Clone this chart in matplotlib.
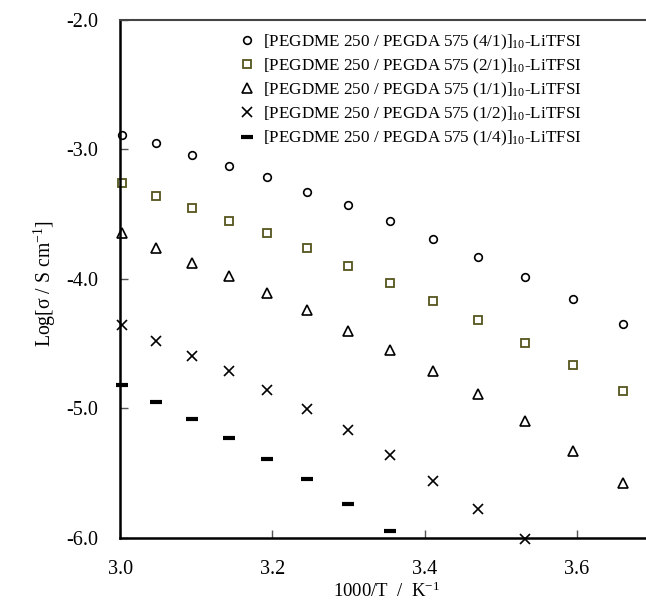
import numpy as np
import matplotlib.pyplot as plt

plt.rcParams['font.family'] = ['Liberation Serif', 'DejaVu Serif']
plt.rcParams['mathtext.fontset'] = 'custom'
plt.rcParams['mathtext.rm'] = 'Liberation Serif'
plt.rcParams['mathtext.it'] = 'Liberation Serif:italic'
plt.rcParams['axes.unicode_minus'] = False

# 1000/T pour T = 60 ... 0 °C
inv_T = [3.002, 3.047, 3.094, 3.143, 3.193, 3.245, 3.299, 3.354, 3.411, 3.470, 3.532, 3.595, 3.661]

log_sigma_4_1 = [-2.89, -2.95, -3.04, -3.13, -3.21, -3.33, -3.43, -3.55, -3.69, -3.83, -3.99, -4.16, -4.35]
log_sigma_2_1 = [-3.26, -3.36, -3.45, -3.55, -3.65, -3.76, -3.90, -4.03, -4.17, -4.32, -4.50, -4.67, -4.87]
log_sigma_1_1 = [-3.65, -3.76, -3.88, -3.98, -4.11, -4.24, -4.40, -4.55, -4.71, -4.89, -5.10, -5.33, -5.58]
log_sigma_1_2 = [-4.36, -4.48, -4.60, -4.71, -4.86, -5.01, -5.17, -5.36, -5.56, -5.78, -6.01]
log_sigma_1_4 = [-4.82, -4.95, -5.08, -5.23, -5.39, -5.55, -5.74, -5.95]

labels = ['[PEGDME 250 / PEGDA 575 (4/1)]$_{10}$-LiTFSI',
          '[PEGDME 250 / PEGDA 575 (2/1)]$_{10}$-LiTFSI',
          '[PEGDME 250 / PEGDA 575 (1/1)]$_{10}$-LiTFSI',
          '[PEGDME 250 / PEGDA 575 (1/2)]$_{10}$-LiTFSI',
          '[PEGDME 250 / PEGDA 575 (1/4)]$_{10}$-LiTFSI']

fig = plt.figure(figsize=(6.46, 6.0), dpi=100)
ax = fig.add_axes([0.186, 0.104, 0.8246, 0.8628])

ax.plot(inv_T, log_sigma_4_1, 'o', ls='none', ms=5.5, mfc='white', mec='black', mew=1.2, label=labels[0], clip_on=False)
ax.plot(inv_T, log_sigma_2_1, 's', ls='none', ms=5.5, mfc='white', mec='#55551f', mew=1.3, label=labels[1], clip_on=False)
ax.plot(inv_T, log_sigma_1_1, '^', ls='none', ms=6.5, mfc='white', mec='black', mew=1.2, label=labels[2], clip_on=False)
ax.plot(inv_T[:len(log_sigma_1_2)], log_sigma_1_2, 'x', ls='none', ms=7, mec='black', mew=1.2, label=labels[3], clip_on=False)
ax.plot(inv_T[:len(log_sigma_1_4)], log_sigma_1_4, '_', ls='none', ms=8, mec='black', mew=3, label=labels[4], clip_on=False)

ax.set_xlim(3.0, 3.7)
ax.set_ylim(-6.0, -2.0)
ax.set_xticks([3.0, 3.2, 3.4, 3.6])
ax.set_yticks([-6.0, -5.0, -4.0, -3.0, -2.0])
ax.xaxis.set_major_formatter(plt.FormatStrFormatter('%.1f'))
ax.yaxis.set_major_formatter(plt.FormatStrFormatter('%.1f'))
ax.tick_params(direction='in', length=6, width=1, color='#555555', labelsize=14.5, pad=16)

ax.spines['right'].set_visible(False)
ax.spines['left'].set_linewidth(1.8)
ax.spines['bottom'].set_linewidth(1.8)
ax.spines['top'].set_linewidth(1.5)
ax.spines['top'].set_color('#444444')

ax.set_xlabel('1000/T  /  K$^{-1}$', fontsize=13.5)
ax.xaxis.set_label_coords(0.5, -0.085)
ax.set_ylabel('Log[σ / S cm$^{-1}$]', fontsize=14.2)
ax.yaxis.set_label_coords(-0.117, 0.49)

ax.legend(loc='upper left', bbox_to_anchor=(0.214, 0.975), frameon=False, fontsize=12.3,
          handletextpad=0.2, labelspacing=0.28, handlelength=1.5, borderaxespad=0, borderpad=0)

fig.savefig('out.png', dpi=100)
